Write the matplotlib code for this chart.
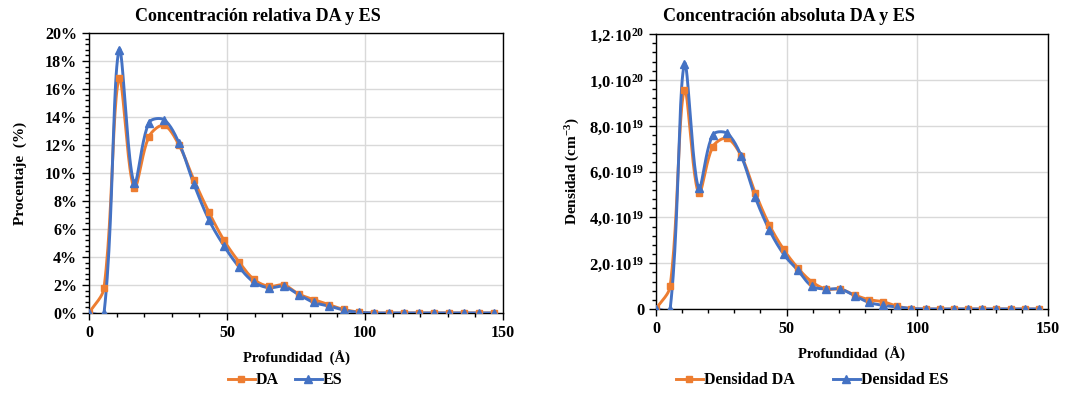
import numpy as np
import matplotlib
matplotlib.use('Agg')
import matplotlib.pyplot as plt
from matplotlib.ticker import MultipleLocator, AutoMinorLocator, FuncFormatter

plt.rcParams['font.family'] = ['Liberation Serif', 'DejaVu Serif']
plt.rcParams['font.weight'] = 'bold'
plt.rcParams['mathtext.fontset'] = 'custom'
plt.rcParams['mathtext.rm'] = 'Liberation Serif:bold'
plt.rcParams['mathtext.it'] = 'Liberation Serif:bold'
plt.rcParams['mathtext.bf'] = 'Liberation Serif:bold'

# profundidad (Angstrom), paso ~5.43
depth = np.arange(28) * 5.43

# concentracion relativa (%)
rel_da = [0.0, 1.8, 16.75, 8.95, 12.6, 13.4, 12.0, 9.5, 7.2, 5.2, 3.65, 2.4, 1.9, 2.0,
          1.35, 0.95, 0.6, 0.25, 0.07, 0, 0, 0, 0, 0, 0, 0, 0, 0]
rel_es = [0.0, 0.0, 18.8, 9.3, 13.6, 13.8, 12.15, 9.2, 6.65, 4.8, 3.3, 2.2, 1.8, 1.9,
          1.3, 0.75, 0.5, 0.2, 0.05, 0, 0, 0, 0, 0, 0, 0, 0, 0]

# densidad absoluta (1e19 cm^-3)
abs_da = [0.0, 1.0, 9.56, 5.07, 7.08, 7.45, 6.69, 5.07, 3.66, 2.6, 1.79, 1.18, 0.87, 0.87,
          0.61, 0.41, 0.32, 0.12, 0.02, 0, 0, 0, 0, 0, 0, 0, 0, 0]
abs_es = [0.0, 0.0, 10.7, 5.29, 7.6, 7.67, 6.69, 4.87, 3.44, 2.39, 1.69, 0.99, 0.87, 0.87,
          0.58, 0.29, 0.16, 0.09, 0.02, 0, 0, 0, 0, 0, 0, 0, 0, 0]

ORANGE = '#ED7D31'
BLUE = '#4472C4'
FIG_W, FIG_H = 1078, 395


def smooth(x, y, kx, ky, n=24, k=1/3):
    """Linea suavizada tipo Excel: Bezier, tangentes ponderadas por longitud de tramo (pixeles)"""
    P = np.column_stack([np.asarray(x, float) * kx, np.asarray(y, float) * ky])
    N = len(P)
    before = P.copy()
    after = P.copy()
    for i in range(N):
        a = P[max(i - 1, 0)]
        b = P[min(i + 1, N - 1)]
        dp = np.hypot(*(P[i] - a))
        dn = np.hypot(*(b - P[i]))
        if dp + dn == 0:
            continue
        T = b - a
        after[i] = P[i] + T * dn / (dp + dn) * k
        before[i] = P[i] - T * dp / (dp + dn) * k
    t = np.linspace(0, 1, n)[:, None]
    out = []
    for i in range(N - 1):
        p0, p3 = P[i], P[i + 1]
        c1, c2 = after[i], before[i + 1]
        out.append((1 - t) ** 3 * p0 + 3 * (1 - t) ** 2 * t * c1
                   + 3 * (1 - t) * t ** 2 * c2 + t ** 3 * p3)
    out = np.vstack(out)
    return out[:, 0] / kx, out[:, 1] / ky


def draw(ax, y1, y2, lab1, lab2, ymax, scale=1.0):
    pos = ax.get_position()
    kx = pos.width * FIG_W / 150
    ky = pos.height * FIG_H / ymax
    for y, c, m, ms, lab in [(y1, ORANGE, 's', 4.8, lab1), (y2, BLUE, '^', 5.2, lab2)]:
        y = np.asarray(y) * scale
        sx, sy = smooth(depth, y, kx, ky)
        ax.plot(sx, sy, color=c, lw=2.1, zorder=3)
        ax.plot(depth, y, ls='none', marker=m, ms=ms, color=c, zorder=4)
        ax.plot([], [], color=c, lw=2.1, marker=m, ms=ms, label=lab)
    ax.set_xlim(0, 150)
    ax.set_ylim(0, ymax)
    ax.xaxis.set_major_locator(MultipleLocator(50))
    ax.xaxis.set_minor_locator(MultipleLocator(10))
    ax.yaxis.set_minor_locator(AutoMinorLocator(5))
    ax.grid(True, which='major', color='#D9D9D9', lw=1, zorder=0)
    ax.set_axisbelow(True)
    ax.tick_params(which='major', direction='out', length=5, width=1, labelsize=11.5)
    ax.tick_params(which='minor', direction='out', length=3, width=1)
    for sp in ax.spines.values():
        sp.set_color('black')
        sp.set_linewidth(1)
    ax.set_xlabel('Profundidad  (Å)', fontsize=10.5, fontweight='bold', labelpad=7)


fig = plt.figure(figsize=(10.78, 3.95), dpi=100)

ax1 = fig.add_axes([0.0826, 0.2076, 0.384, 0.709])
draw(ax1, rel_da, rel_es, 'DA', 'ES', 20)
ax1.yaxis.set_major_locator(MultipleLocator(2))
ax1.yaxis.set_major_formatter(FuncFormatter(lambda v, p: f'{v:.0f}%'))
ax1.set_ylabel('Procentaje  (%)', fontsize=11, fontweight='bold', labelpad=13)
fig.text(258 / FIG_W, 1 - 21 / FIG_H, 'Concentración relativa DA y ES', fontsize=13,
         fontweight='bold', ha='center', va='baseline')
ax1.legend(loc='center', bbox_to_anchor=(0.473, -0.24), ncol=2, frameon=False,
           fontsize=11.5, handlelength=1.7, handletextpad=0.05, columnspacing=1.0)

ax2 = fig.add_axes([0.6085, 0.2177, 0.3636, 0.696])
draw(ax2, abs_da, abs_es, 'Densidad DA', 'Densidad ES', 1.2e20, scale=1e19)
ax2.yaxis.set_major_locator(MultipleLocator(2e19))


def sci_fmt(v, p):
    if abs(v) < 1e10:
        return '0'
    if v < 0:
        return ''
    e = int(np.floor(np.log10(v) + 1e-9))
    m = v / 10 ** e
    return r'$%d{,}%d{\cdot}10^{%d}$' % (int(m), int(round((m - int(m)) * 10)), e)


ax2.yaxis.set_major_formatter(FuncFormatter(sci_fmt))
ax2.tick_params(axis='y', labelsize=12)
ax2.set_ylabel('Densidad (cm$^{-3}$)', fontsize=11, fontweight='bold', labelpad=5)
fig.text(789 / FIG_W, 1 - 21 / FIG_H, 'Concentración absoluta DA y ES', fontsize=13,
         fontweight='bold', ha='center', va='baseline')
ax2.legend(loc='center', bbox_to_anchor=(0.398, -0.26), ncol=2, frameon=False,
           fontsize=11.5, handlelength=1.7, handletextpad=0.05, columnspacing=2.4)

fig.savefig('out.png', dpi=100)
